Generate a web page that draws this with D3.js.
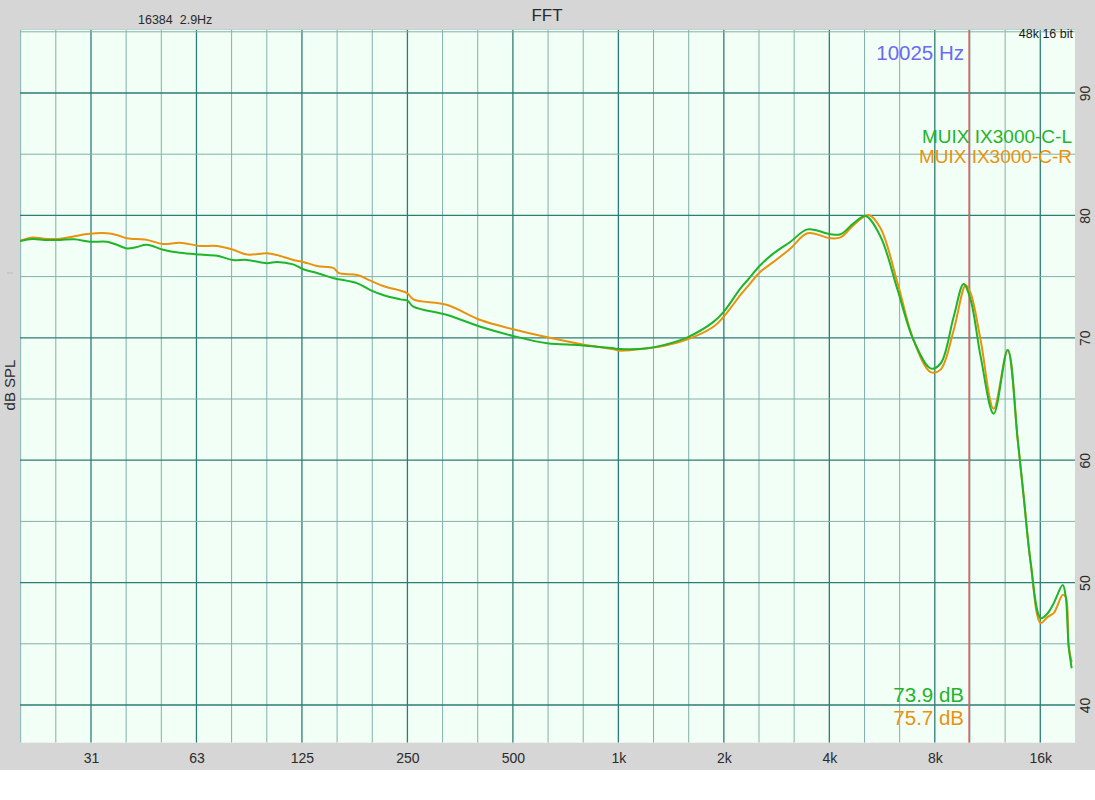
<!DOCTYPE html>
<html>
<head>
<meta charset="utf-8">
<script src="https://cdn.jsdelivr.net/npm/d3@7"></script>
<style>
  html, body { margin: 0; padding: 0; background: #ffffff; }
  svg { display: block; font-family: "Liberation Sans", Arial, Helvetica, sans-serif; }
</style>
</head>
<body>
<svg id="chart" width="1095" height="800"></svg>
<script>
// ---------- data ----------
const freqTickValues = [31.25, 62.5, 125, 250, 500, 1000, 2000, 4000, 8000, 16000];
const freqTickLabels = ["31", "63", "125", "250", "500", "1k", "2k", "4k", "8k", "16k"];
const dbTickValues = [40, 50, 60, 70, 80, 90];

const seriesNames = ["MUIX IX3000-C-L", "MUIX IX3000-C-R"];
const readouts = ["73.9 dB", "75.7 dB"];
const cursorFreq = 10025;

const freqL = [19.6, 21.3, 23, 25.5, 28, 31, 34.7, 37, 39.6, 42, 45.1, 50.2, 56.1, 64, 71.6, 79.5, 87.2, 99.4, 106, 118, 126, 138, 154, 159, 180, 196, 213, 239, 250, 260, 325, 404, 501, 627, 779, 968, 1013, 1210, 1344, 1575, 1868, 1995, 2231, 2336, 2544, 2772, 3099, 3466, 4031, 4305, 4690, 5075, 5602, 6265, 6959, 7782, 8311, 9053, 9667, 10125, 10814, 11778, 12913, 13796, 14350, 15024, 16045, 16800, 17470, 18542, 18910, 19280, 19670];
const dbL   = [77.9, 78.07, 78.0, 78.0, 78.05, 77.85, 77.85, 77.6, 77.3, 77.4, 77.6, 77.2, 76.95, 76.8, 76.7, 76.36, 76.36, 76.1, 76.2, 76.0, 75.6, 75.3, 74.86, 74.78, 74.45, 73.9, 73.5, 73.14, 73.03, 72.54, 71.86, 70.9, 70.15, 69.55, 69.4, 69.14, 69.08, 69.14, 69.4, 70.04, 71.3, 72.1, 74.04, 74.7, 75.95, 76.9, 77.85, 78.86, 78.46, 78.46, 79.35, 79.95, 78.26, 73.9, 69.8, 67.5, 67.9, 71.7, 74.4, 73.1, 68.46, 63.8, 69.0, 61.65, 57.0, 51.6, 47.1, 47.5, 48.3, 49.8, 48.85, 44.8, 43.0];

const freqR = [19.6, 21.3, 23, 25.5, 28, 31, 34.7, 37, 39.6, 45.1, 50.2, 56.1, 64, 71.6, 79.5, 87.2, 99.4, 106, 118, 126, 138, 154, 159, 180, 196, 213, 239, 250, 260, 325, 404, 501, 627, 779, 968, 1013, 1210, 1344, 1575, 1868, 1995, 2231, 2336, 2544, 2772, 3099, 3466, 4031, 4305, 4690, 5177, 5602, 6265, 6959, 7782, 8311, 9053, 9800, 10125, 10814, 11778, 12913, 13796, 14350, 15024, 16045, 16800, 17470, 18542, 18910, 19280, 19670];
const dbR   = [77.93, 78.2, 78.1, 78.1, 78.3, 78.5, 78.54, 78.4, 78.13, 78.0, 77.66, 77.77, 77.5, 77.5, 77.2, 76.8, 76.9, 76.76, 76.36, 76.2, 75.87, 75.7, 75.3, 75.13, 74.67, 74.23, 73.85, 73.64, 73.14, 72.68, 71.45, 70.7, 70.04, 69.5, 69.06, 68.95, 69.14, 69.33, 69.87, 70.9, 71.7, 73.5, 74.18, 75.4, 76.2, 77.3, 78.54, 78.13, 78.2, 79.2, 80.03, 78.95, 74.45, 69.8, 67.2, 67.4, 70.6, 74.3, 73.64, 69.8, 64.2, 69.0, 61.65, 57.0, 51.6, 46.7, 47.2, 47.5, 49.0, 48.85, 44.8, 43.5];

// ---------- layout ----------
const W = 1095, H = 800;
const plotLeft = 20, plotRight = 1075, plotTop = 29.5, plotBottom = 742.7;
const colL = "#1fb42a", colR = "#e8920e";
const gridMajor = "#2c7d73", gridMinor = "#82b1aa";

const svg = d3.select("#chart");

// gray frame
svg.append("rect").attr("x", 0).attr("y", 0).attr("width", W).attr("height", 770).attr("fill", "#d6d6d6");

const x = d3.scaleLog().domain([19.6, 20100]).range([plotLeft, plotRight]);
const y = d3.scaleLinear().domain([40, 90]).range([705, 93]);

// plot background
svg.append("rect").attr("x", plotLeft).attr("y", plotTop)
  .attr("width", plotRight - plotLeft).attr("height", plotBottom - plotTop)
  .attr("fill", "#f2fff6");

svg.append("clipPath").attr("id", "plotclip").append("rect")
  .attr("x", plotLeft).attr("y", plotTop).attr("width", plotRight - plotLeft).attr("height", plotBottom - plotTop);

const grid = svg.append("g").attr("clip-path", "url(#plotclip)");

// vertical 1/3-octave grid
const vLines = d3.range(-17, 13).map(k => ({ f: 1000 * Math.pow(2, k / 3), major: ((k % 3) + 3) % 3 === 0 }));
grid.selectAll("line.v").data(vLines).enter().append("line")
  .attr("x1", d => x(d.f)).attr("x2", d => x(d.f))
  .attr("y1", plotTop).attr("y2", plotBottom)
  .attr("stroke", d => d.major ? gridMajor : gridMinor)
  .attr("stroke-width", d => d.major ? 1.3 : 1);

// horizontal 5 dB grid
const hLines = d3.range(40, 96, 5).map(v => ({ v, major: v % 10 === 0 }));
grid.selectAll("line.h").data(hLines).enter().append("line")
  .attr("x1", plotLeft).attr("x2", plotRight)
  .attr("y1", d => y(d.v)).attr("y2", d => y(d.v))
  .attr("stroke", d => d.major ? gridMajor : gridMinor)
  .attr("stroke-width", d => d.major ? 1.3 : 1);

// top border
svg.append("line").attr("x1", plotLeft).attr("x2", plotRight).attr("y1", plotTop).attr("y2", plotTop)
  .attr("stroke", "#b7d6d0").attr("stroke-width", 1);

// cursor line
grid.append("line").attr("x1", x(cursorFreq)).attr("x2", x(cursorFreq))
  .attr("y1", plotTop).attr("y2", plotBottom)
  .attr("stroke", "#e25c5c").attr("stroke-width", 1.6);

// curves
const line = d3.line().x(d => x(d[0])).y(d => y(d[1])).curve(d3.curveCatmullRom.alpha(0.5));
const dataL = freqL.map((f, i) => [f, dbL[i]]);
const dataR = freqR.map((f, i) => [f, dbR[i]]);
grid.append("path").attr("d", line(dataR)).attr("fill", "none").attr("stroke", colR).attr("stroke-width", 2);
grid.append("path").attr("d", line(dataL)).attr("fill", "none").attr("stroke", colL).attr("stroke-width", 2);

// x axis
const xAxis = d3.axisBottom(x).tickValues(freqTickValues)
  .tickFormat((d, i) => freqTickLabels[i]).tickSize(0).tickPadding(0);
const gx = svg.append("g").attr("transform", `translate(0, ${plotBottom})`).call(xAxis);
gx.select(".domain").remove();
gx.selectAll("text").attr("dy", null).attr("y", 20.5)
  .attr("font-size", 14).attr("fill", "#2a2a2a").attr("font-family", "Liberation Sans, Arial, sans-serif");

// y axis (right, rotated labels)
const yAxis = d3.axisRight(y).tickValues(dbTickValues).tickSize(0).tickPadding(0);
const gy = svg.append("g").attr("transform", `translate(${plotRight}, 0)`).call(yAxis);
gy.select(".domain").remove();
gy.selectAll(".tick text")
  .attr("x", null).attr("dy", null)
  .attr("text-anchor", "middle")
  .attr("transform", "translate(10.5, 0) rotate(-90)")
  .attr("dy", "0.35em")
  .attr("font-size", 14).attr("fill", "#2a2a2a").attr("font-family", "Liberation Sans, Arial, sans-serif");

// y axis title
svg.append("text").attr("transform", "translate(15, 385) rotate(-90)")
  .attr("text-anchor", "middle").attr("font-size", 15).attr("fill", "#2a2a2a").text("dB SPL");

// small marker at left
svg.append("line").attr("x1", 7).attr("x2", 13).attr("y1", 273).attr("y2", 273)
  .attr("stroke", "#bdbdbd").attr("stroke-width", 1);

// title and info
svg.append("text").attr("x", 547).attr("y", 21).attr("text-anchor", "middle")
  .attr("font-size", 17).attr("fill", "#2a2a2a").text("FFT");
svg.append("text").attr("x", 138).attr("y", 23.5).attr("font-size", 12.5).attr("fill", "#2a2a2a")
  .attr("xml:space", "preserve").text("16384  2.9Hz");
svg.append("text").attr("x", 1073).attr("y", 38).attr("text-anchor", "end")
  .attr("font-size", 12.5).attr("fill", "#1a1a1a").text("48k 16 bit");

// cursor frequency label
svg.append("text").attr("x", 964).attr("y", 60).attr("text-anchor", "end")
  .attr("font-size", 20.5).attr("fill", "#6a6af2").text(cursorFreq + " Hz");

// legend
const legendColors = [colL, colR];
svg.selectAll("text.legend").data(seriesNames).enter().append("text")
  .attr("x", 1072).attr("y", (d, i) => 143 + i * 19.5).attr("text-anchor", "end")
  .attr("font-size", 19).attr("fill", (d, i) => legendColors[i]).text(d => d);

// readouts
svg.selectAll("text.readout").data(readouts).enter().append("text")
  .attr("x", 964).attr("y", (d, i) => 702 + i * 23).attr("text-anchor", "end")
  .attr("font-size", 20.5).attr("fill", (d, i) => legendColors[i]).text(d => d);
</script>
</body>
</html>
